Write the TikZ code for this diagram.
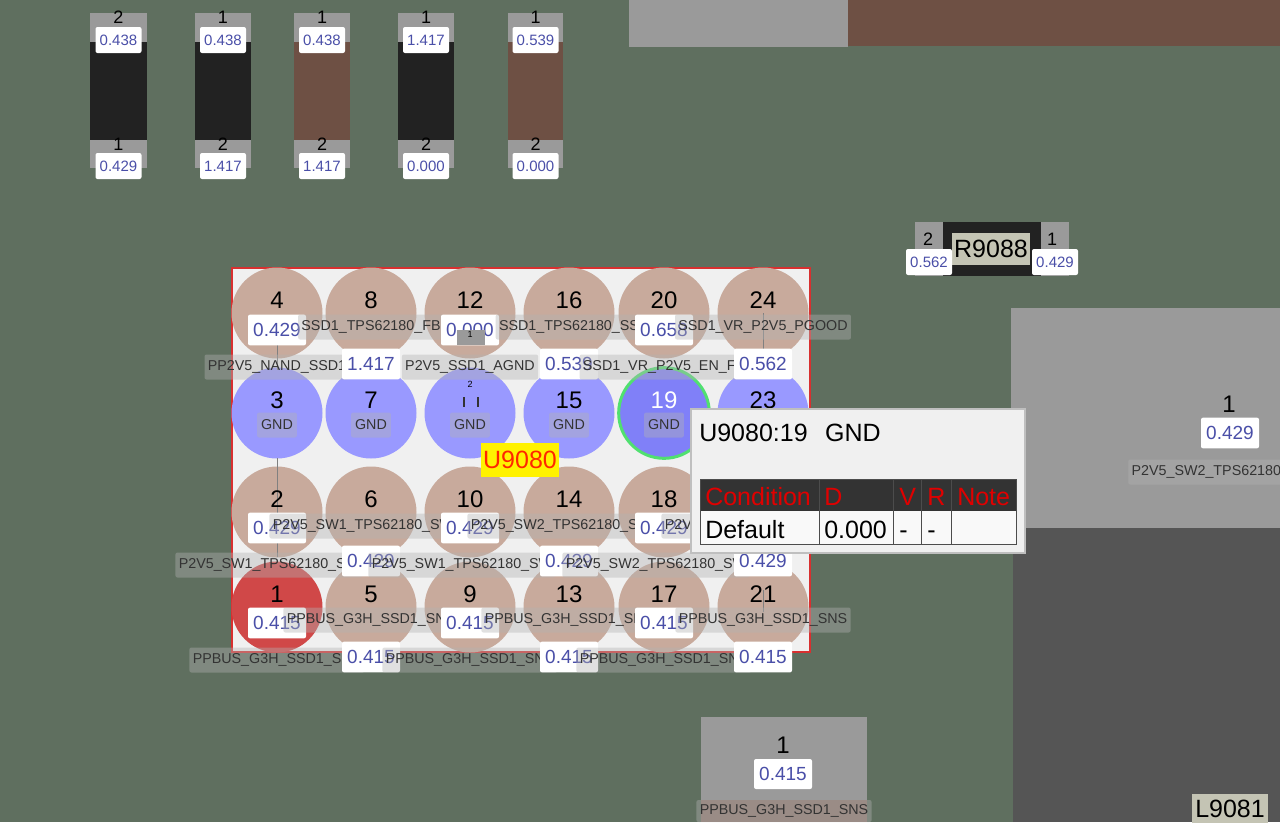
\documentclass[tikz,border=0pt]{standalone}
\usepackage{fontspec}
\setmainfont{Liberation Sans}
\usepackage{tikz}
\usetikzlibrary{positioning,calc}

\definecolor{boardgreen}{HTML}{5F6F5F}
\definecolor{padgray}{HTML}{9A9A9A}
\definecolor{bodyblack}{HTML}{222222}
\definecolor{bodybrown}{HTML}{6E5044}
\definecolor{darkpad}{HTML}{555555}
\definecolor{chipface}{HTML}{F0F0F0}
\definecolor{chipedge}{HTML}{D83030}
\definecolor{pinbrown}{HTML}{C8AA9C}
\definecolor{pinblue}{HTML}{9999FF}
\definecolor{pinsel}{HTML}{8080F8}
\definecolor{pinred}{HTML}{D04848}
\definecolor{selring}{HTML}{50E070}
\definecolor{valblue}{HTML}{4A4FA8}
\definecolor{refbox}{HTML}{C4C4B4}
\definecolor{headred}{HTML}{E00000}

\newcommand{\pxf}[1]{\fontsize{\dimexpr#1pt*3/4\relax}{\dimexpr#1pt*9/10\relax}\selectfont}

\tikzset{
    x=0.75pt, y=-0.75pt,
    pinpad/.style={circle, inner sep=0pt, minimum size=68.25pt, fill=#1},
    pinnum/.style={inner sep=0pt, text=#1, font=\pxf{24}},
    pinnum/.default=black,
    valbox/.style={fill=white, rounded corners=1.5pt, inner sep=0pt, text=valblue, font=\pxf{19},
        minimum width=43.5pt, minimum height=23pt},
    smallval/.style={valbox, font=\pxf{15}, minimum width=34.5pt, minimum height=19.5pt},
    netlabel/.style={fill=black!30, fill opacity=.4, text opacity=1, text=black!80, rounded corners=1.5pt,
        inner xsep=2.5pt, inner ysep=0pt, minimum height=18.75pt, font=\pxf{14.3}},
    smallnum/.style={inner sep=0pt, font=\pxf{18}},
    bigtext/.style={inner sep=0pt, anchor=west, text height=13.7pt, text depth=0pt, font=\pxf{25}},
    refname/.style={fill=refbox, inner sep=0pt, font=\pxf{25}, minimum height=24pt},
}

\begin{document}
\begin{tikzpicture}
    \clip (0,0) rectangle (1280,822);
    \fill[boardgreen] (0,0) rectangle (1280,822);

    % Parts along the top edge
    \fill[padgray] (629,0) rectangle (848,47);
    \fill[bodybrown] (848,0) rectangle (1280,46);

    % Small resistors
    \foreach \n/\xa/\xb/\col/\tn/\bn/\tv/\bv in {a/90/147/bodyblack/2/1/0.438/0.429, b/195/251/bodyblack/1/2/0.438/1.417,
        c/294/350/bodybrown/1/2/0.438/1.417, d/398/454/bodyblack/1/2/1.417/0.000, e/508/563/bodybrown/1/2/0.539/0.000} {
        \fill[padgray] (\xa,13) rectangle (\xb,168);
        \fill[\col] (\xa,42) rectangle (\xb,140);
        \coordinate (mid\n) at ({(\xa+\xb)/2},0);
        \node[smallnum] (topnum\n) at ($(mid\n)+(0,17)$) {\tn};
        \node[smallval] (topval\n) at ($(mid\n)+(0,40)$) {\tv};
        \node[smallnum] (botnum\n) at ($(mid\n)+(0,144)$) {\bn};
        \node[smallval] (botval\n) at ($(mid\n)+(0,166)$) {\bv};
    }

    % R9088
    \fill[padgray] (915,222) rectangle (1069,276);
    \fill[bodyblack] (943,222) rectangle (1041,276);
    \node[refname, minimum width=58.5pt] (r9088) at (991,249) {R9088};
    \node[smallnum] (rnuma) at (928,239) {2};
    \node[smallnum] (rnumb) at (1052,239) {1};
    \node[smallval] (rvala) at (929,262) {0.562};
    \node[smallval] (rvalb) at (1055,262) {0.429};

    % Inductor L9081 and its pad
    \fill[padgray] (1011,308) rectangle (1280,528);
    \fill[darkpad] (1013,528) rectangle (1280,822);
    \node[pinnum] (lnum) at (1229,404) {1};
    \node[valbox] (lval) at (1230,433) {0.429};
    \node[netlabel, anchor=west] (lnet) at (1128,472) {P2V5\_SW2\_TPS62180\_SW};
    \node[refname, minimum width=57pt, minimum height=22pt] (l9081) at (1230,809) {L9081};

    % Bottom pad
    \fill[padgray] (701,717) rectangle (867,822);
    \fill[bodybrown!80!white] (701,800) rectangle (867,822);
    \node[pinnum] (bnum) at (783,745) {1};
    \node[valbox, minimum height=22.5pt] (bval) at (783,774) {0.415};
    \node[netlabel, minimum height=16.5pt] (bnet) at (784,811) {PPBUS\_G3H\_SSD1\_SNS};

    % Chip U9080
    \draw[chipedge, line width=1.3pt, fill=chipface] (232,268) rectangle (810,652);

    % Pins
    \foreach \n/\x/\y/\col in {4/277/313/pinbrown, 8/371/313/pinbrown, 12/470/313/pinbrown, 16/569/313/pinbrown, 20/664/313/pinbrown, 24/763/313/pinbrown,
        3/277/413/pinblue, 7/371/413/pinblue, 11/470/413/pinblue, 15/569/413/pinblue, 19/664/413/pinsel, 23/763/413/pinblue,
        2/277/512/pinbrown, 6/371/512/pinbrown, 10/470/512/pinbrown, 14/569/512/pinbrown, 18/664/512/pinbrown, 22/763/512/pinbrown,
        1/277/607/pinred, 5/371/607/pinbrown, 9/470/607/pinbrown, 13/569/607/pinbrown, 17/664/607/pinbrown, 21/763/607/pinbrown}
        \node[pinpad=\col] (pin\n) at (\x,\y) {};
    \draw[selring, line width=2.25pt] (pin19) circle (34pt);

    % Thin traces
    \draw[gray, line width=.4pt] (277,345) -- (277,370) (277,458) -- (277,557) (763,313) -- (763,350) (763,590) -- (763,612);

    % Pin numbers
    \foreach \n in {4,8,12,16,20,24,3,7,15,23,2,6,10,14,18,1,5,9,13,17,21}
        \node[pinnum] (num\n) at ($(pin\n)+(0,-13)$) {\n};
    \node[pinnum=white] (num19) at ($(pin19)+(0,-13)$) {19};

    % Ground labels
    \foreach \n in {3,7,11,15,19}
        \node[netlabel, inner xsep=3pt] (gnd\n) at ($(pin\n)+(0,12)$) {GND};

    % The small part on pin 11
    \node[inner sep=0pt, font=\pxf{9}] (tinynum) at (470,384) {2};
    \draw[black!80, line width=.9pt] (464,397) -- (464,407) (478,397) -- (478,407);

    % Values and net names, pin by pin
    \foreach \n/\vy/\ly/\ox/\val/\net in {4/330/367/0/0.429/PP2V5\_NAND\_SSD1, 8/364/327/0/1.417/SSD1\_TPS62180\_FB, 12/330/367/0/0.000/P2V5\_SSD1\_AGND,
        16/364/327/0/0.539/SSD1\_TPS62180\_SS, 20/330/367/0/0.658/SSD1\_VR\_P2V5\_EN\_FB, 24/364/327/0/0.562/SSD1\_VR\_P2V5\_PGOOD,
        2/528/565/-8/0.429/P2V5\_SW1\_TPS62180\_SW, 6/561/526/-8/0.429/P2V5\_SW1\_TPS62180\_SW, 10/528/565/-8/0.429/P2V5\_SW1\_TPS62180\_SW,
        14/561/526/-8/0.429/P2V5\_SW2\_TPS62180\_SW, 18/528/565/-8/0.429/P2V5\_SW2\_TPS62180\_SW, 22/561/526/-8/0.429/P2V5\_SW2\_TPS62180\_SW,
        1/623/660/0/0.415/PPBUS\_G3H\_SSD1\_SNS, 5/657/620/0/0.415/PPBUS\_G3H\_SSD1\_SNS, 9/623/660/0/0.415/PPBUS\_G3H\_SSD1\_SNS,
        13/657/620/0/0.415/PPBUS\_G3H\_SSD1\_SNS, 17/623/660/0/0.415/PPBUS\_G3H\_SSD1\_SNS, 21/657/620/0/0.415/PPBUS\_G3H\_SSD1\_SNS} {
        \node[valbox] (val\n) at (pin\n |- 0,\vy) {\val};
        \node[netlabel] (net\n) at ($(pin\n |- 0,\ly)+(\ox,0)$) {\net};
    }
    % small pad on top of the 0.000 box
    \fill[padgray] (457,330) rectangle (485,345);
    \node[inner sep=0pt, font=\pxf{9}] (tinytop) at (470,334) {1};

    \node[fill=yellow, text=red!70!orange, inner sep=0pt, minimum width=59pt, minimum height=25pt, font=\pxf{25}] (chipname) at (520,460) {U9080};

    % Popup
    \draw[gray!50, line width=1pt, fill=gray!12] (691,409) rectangle (1025,553);
    \node[bigtext] (popup) at (699,432) {U9080:19\hspace{.7em}GND};
    \fill[white!95!gray] (700,511) rectangle (1016,544);
    \fill[black!80] (700,479) rectangle (1016,511);
    \draw[black!70, line width=.75pt] (700,479) rectangle (1016,544);
    \foreach \x in {819,893,921,951} \draw[black!70, line width=.75pt] (\x,479) -- (\x,544);
    \foreach \x/\hd in {705/Condition, 824/D, 899/V, 927/R, 957/Note}
        \node[bigtext, text=headred] (head\hd) at (\x,496) {\hd};
    \foreach \x/\tx/\cell in {705/Default/cella, 824/0.000/cellb, 899/-/cellc, 927/-/celld}
        \node[bigtext] (\cell) at (\x,529) {\tx};
\end{tikzpicture}
\end{document}
